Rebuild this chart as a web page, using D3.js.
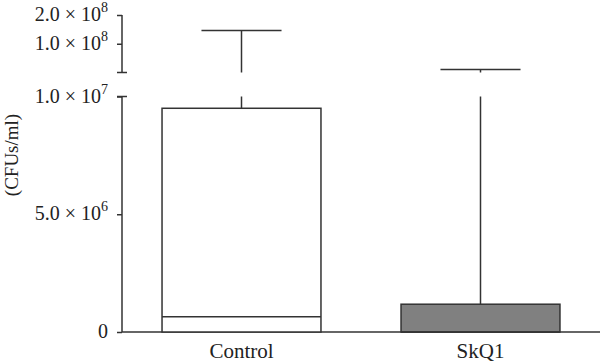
<!DOCTYPE html>
<html>
<head>
<meta charset="utf-8">
<script src="https://cdn.jsdelivr.net/npm/d3@7"></script>
<style>
  body { margin: 0; background: #fff; }
  svg { display: block; font-family: "Liberation Serif", "DejaVu Serif", serif; }
</style>
</head>
<body>
<svg id="chart" width="600" height="364"></svg>
<script>
// box plot values (CFUs/ml)
const categories = ["Control", "SkQ1"];
const mins    = [0, 0];
const q1s     = [0, 0];
const medians = [0.65e6, 0];
const q3s     = [9.5e6, 1.18e6];
const maxs    = [1.46e8, 1.02e7];
const fills   = ["#ffffff", "#808080"];

// axis segments (broken axis)
const lowTicks = [0, 5e6, 1e7];
const lowTickLabels = [["0", ""], ["5.0 × 10", "6"], ["1.0 × 10", "7"]];
const highTicks = [1e8, 2e8];
const highTickLabels = [["1.0 × 10", "8"], ["2.0 × 10", "8"]];

const svg = d3.select("#chart");
const ink = "#333";

const left = 122, right = 600;
const breakLow = 1e7;

const x = d3.scaleBand()
    .domain(categories)
    .range([left, right])
    .paddingInner(0)
    .paddingOuter(0);

const yLow = d3.scaleLinear().domain([0, 1e7]).range([332, 96.5]);
const yHigh = d3.scaleLinear().domain([0, 2e8]).range([72.5, 15]);

const boxW = x.bandwidth() * 0.665;
const capW = x.bandwidth() * 0.335;

// y axis, lower part
const gLow = svg.append("g")
    .attr("transform", `translate(${left},0)`)
    .call(d3.axisLeft(yLow).tickValues(lowTicks).tickSize(5).tickFormat(""));
// y axis, upper part
const gHigh = svg.append("g")
    .attr("transform", `translate(${left},0)`)
    .call(d3.axisLeft(yHigh).tickValues(highTicks).tickSize(5).tickFormat(""));

[gLow, gHigh].forEach(g => {
  g.select(".domain").remove();
  g.selectAll("line").attr("stroke", ink).attr("stroke-width", 1.5);
});

svg.append("line")
  .attr("x1", left).attr("x2", left)
  .attr("y1", yLow(0)).attr("y2", yLow(breakLow))
  .attr("stroke", ink).attr("stroke-width", 1.5);
svg.append("line")
  .attr("x1", left).attr("x2", left)
  .attr("y1", yHigh(0)).attr("y2", yHigh(2e8))
  .attr("stroke", ink).attr("stroke-width", 1.5);

// break marks on both ends of the gap
[yHigh(0), yLow(breakLow)].forEach(yy => {
  svg.append("line")
    .attr("x1", left - 5).attr("x2", left + 5)
    .attr("y1", yy).attr("y2", yy)
    .attr("stroke", ink).attr("stroke-width", 1.5);
});

function tickLabel(yy, parts) {
  const t = svg.append("text")
    .attr("x", left - 14)
    .attr("y", yy + 6)
    .attr("text-anchor", "end")
    .attr("font-size", 20)
    .attr("fill", "#222");
  t.append("tspan").text(parts[0]);
  if (parts[1]) {
    t.append("tspan").attr("font-size", 14).attr("dy", -9).text(parts[1]);
  }
}
lowTicks.forEach((v, i) => tickLabel(yLow(v), lowTickLabels[i]));
highTicks.forEach((v, i) => tickLabel(yHigh(v), highTickLabels[i]));

// axis title
svg.append("text")
  .attr("transform", "translate(18,155) rotate(-90)")
  .attr("text-anchor", "middle")
  .attr("font-size", 19)
  .attr("fill", "#222")
  .text("(CFUs/ml)");

// x axis
svg.append("line")
  .attr("x1", left).attr("x2", right)
  .attr("y1", yLow(0)).attr("y2", yLow(0))
  .attr("stroke", ink).attr("stroke-width", 1.5);

svg.selectAll(".cat")
  .data(categories)
  .join("text")
  .attr("class", "cat")
  .attr("x", d => x(d) + x.bandwidth() / 2)
  .attr("y", 358)
  .attr("text-anchor", "middle")
  .attr("font-size", 21)
  .attr("fill", "#222")
  .text(d => d);

// boxes and whiskers
categories.forEach((c, i) => {
  const cx = x(c) + x.bandwidth() / 2;
  const top = q3s[i], mx = maxs[i];

  // lower-part whisker
  const lowEnd = Math.min(mx, breakLow);
  svg.append("line")
    .attr("x1", cx).attr("x2", cx)
    .attr("y1", yLow(top)).attr("y2", yLow(lowEnd))
    .attr("stroke", ink).attr("stroke-width", 1.5);

  if (mx > breakLow) {
    svg.append("line")
      .attr("x1", cx).attr("x2", cx)
      .attr("y1", yHigh(0)).attr("y2", yHigh(mx))
      .attr("stroke", ink).attr("stroke-width", 1.5);
  }
  const capY = mx > breakLow ? yHigh(mx) : yLow(mx);
  svg.append("line")
    .attr("x1", cx - capW / 2).attr("x2", cx + capW / 2)
    .attr("y1", capY).attr("y2", capY)
    .attr("stroke", ink).attr("stroke-width", 1.5);

  svg.append("rect")
    .attr("x", cx - boxW / 2)
    .attr("y", yLow(top))
    .attr("width", boxW)
    .attr("height", yLow(q1s[i]) - yLow(top))
    .attr("fill", fills[i])
    .attr("stroke", ink)
    .attr("stroke-width", 1.5);

  svg.append("line")
    .attr("x1", cx - boxW / 2).attr("x2", cx + boxW / 2)
    .attr("y1", yLow(medians[i])).attr("y2", yLow(medians[i]))
    .attr("stroke", ink).attr("stroke-width", 1.5);
});
</script>
</body>
</html>
